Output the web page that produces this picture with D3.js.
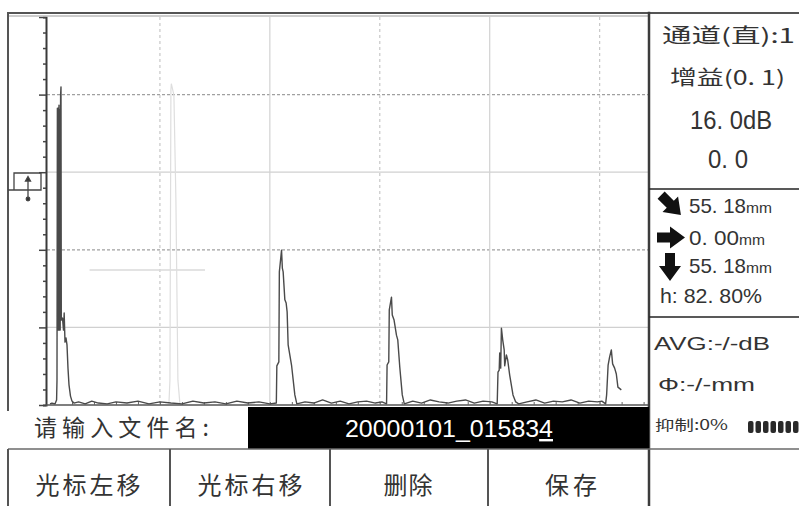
<!DOCTYPE html>
<html><head><meta charset="utf-8">
<script src="https://cdn.jsdelivr.net/npm/d3@7"></script>
<style>
html,body{margin:0;padding:0;background:#fff;}
svg{display:block;}
</style></head><body>
<svg id="screen" width="799" height="506"></svg>
<script>
// ---- A-scan trace: sound path (mm) against echo amplitude (% of full screen height)
const waveDepth = [0, 0.9, 2.3, 3.0, 3.18, 3.36, 3.55, 3.73, 3.91, 4.09, 4.27, 4.45, 4.64, 4.82, 5.0, 5.14, 5.68, 6.14, 6.45, 6.82, 7.27, 7.73, 8.18, 8.64, 9.32, 10.0, 10.9,
  13, 16, 19, 22, 26, 30, 35, 40, 45, 50, 55, 60, 65, 70, 75, 80, 85, 90, 95, 100,
  102.95, 103.18, 104.09, 104.32, 105.32, 105.68, 106.05, 106.82, 107.41, 107.86, 108.32, 109.86, 111.36, 112.27,
  116, 120, 124, 128, 132, 136, 140, 144, 148, 151,
  153.09, 153.32, 154.09, 154.32, 155.32, 155.68, 156.5, 157.59, 158.18, 159.09, 160.23, 161.14,
  165, 169, 173, 177, 181, 185, 189, 193, 197, 201,
  203.41, 203.77, 204.32, 204.55, 205.0, 205.32, 205.91, 206.59, 206.82, 207.59, 208.18, 209.09, 210.59, 211.82, 213.18,
  217, 221, 225, 229, 233, 237, 241, 245, 249, 251,
  252.73, 253.18, 253.86, 254.55, 255.32, 255.91, 256.82, 257.59, 258.32, 259.86];
const waveAmp = [0.3, 0.5, 0.3, 1.3, 6.4, 76.5, 19.3, 76.5, 19.3, 77.3, 19.3, 76.0, 19.3, 79.9, 82.0, 21.9, 22.4, 19.3, 23.7, 16.2, 17.3, 15.5, 9.5, 5.2, 2.3, 1.0, 0.5,
  0.8, 0.3, 1.0, 0.5, 0.3, 0.8, 0.5, 1.0, 0.3, 0.8, 0.5, 0.3, 1.0, 0.5, 0.8, 0.3, 1.0, 0.5, 0.8, 0.3,
  0.5, 10.1, 11.1, 34.3, 39.9, 35.3, 34.3, 27.1, 26.3, 24.0, 15.5, 10.3, 2.6, 0.3,
  0.8, 0.5, 1.3, 0.5, 1.0, 0.3, 0.8, 1.0, 0.5, 0.8,
  0.3, 10.3, 11.1, 24.5, 27.8, 23.2, 21.9, 18.0, 16.8, 9.8, 2.6, 0.3,
  1.0, 0.5, 1.3, 0.8, 0.5, 1.0, 1.3, 0.5, 1.0, 0.8,
  0.3, 8.5, 9.0, 13.4, 9.5, 19.8, 16.8, 14.2, 10.1, 12.9, 11.6, 7.7, 2.6, 0.8, 0.3,
  0.8, 1.3, 0.5, 1.0, 0.8, 1.3, 0.5, 1.0, 0.8, 1.0,
  0.3, 2.6, 10.3, 12.4, 14.2, 10.6, 9.5, 8.0, 4.6, 3.9];

// peak-memory trace of the gated echo
const ghostDepth = [54.09, 54.55, 55.0, 55.18, 56.36, 57.27, 58.18, 59.09];
const ghostAmp = [0.3, 6.4, 81.2, 82.8, 79.9, 52.8, 6.4, 0.3];

// gate A
const gateStart = 18, gateEnd = 70.5, gateLevel = 34.8;

// grid / tick positions
const depthGrid = [50, 100, 150, 200, 250];
const ampGrid = [20, 40, 60, 80];
const depthTicks = [10, 20, 30, 40, 50, 60, 70, 80, 90, 100, 110, 120, 130, 140, 150, 160, 170, 180, 190, 200, 210, 220, 230, 240, 250, 260, 270];
const ampTicks = [0, 4, 8, 12, 16, 20, 24, 28, 32, 36, 40, 44, 48, 52, 56, 60, 64, 68, 72, 76, 80, 84, 88, 92, 96, 100];

// instrument settings and gate readings
const channel = 1;
const gainStep = 0.1;
const gainDb = 16.0;
const refDb = 0.0;
const soundPath = 55.18, surfaceDist = 0.00, flawDepth = 55.18, echoHeight = 82.80;
const suppression = 0;
const meterCells = [1, 1, 1, 1, 1, 1, 1];
const fileName = "20000101_015834";
const softKeys = ["光标左移", "光标右移", "删除", "保存"];

const svg = d3.select("#screen");
const CJK = "'Noto Sans CJK SC', 'Noto Sans', sans-serif";
const NUM = "'Liberation Sans', Arial, 'Noto Sans CJK SC', sans-serif";
const ink = "#333";

const x = d3.scaleLinear().domain([0, 272]).range([50, 648]);
const y = d3.scaleLinear().domain([0, 100]).range([405, 17]);
const dot = v => v.replace(".", ". ");
const f1 = v => dot(d3.format(".1f")(v));
const f2 = v => dot(d3.format(".2f")(v));

svg.append("rect").attr("width", 799).attr("height", 506).attr("fill", "#fff");

// ---- grid
const grid = svg.append("g");
grid.selectAll("line.h").data(ampGrid).join("line")
  .attr("x1", 47).attr("x2", 648)
  .attr("y1", d => y(d)).attr("y2", d => y(d))
  .attr("stroke", (d, i) => i % 2 ? "#a0a0a0" : "#d0d0d0")
  .attr("stroke-width", 1.2)
  .attr("stroke-dasharray", (d, i) => i % 2 ? "3,2" : null);
grid.selectAll("line.v").data(depthGrid).join("line")
  .attr("x1", d => x(d)).attr("x2", d => x(d))
  .attr("y1", 17).attr("y2", 405)
  .attr("stroke", (d, i) => i % 2 ? "#d2d2d2" : "#c8c8c8")
  .attr("stroke-width", 1.2)
  .attr("stroke-dasharray", (d, i) => i % 2 ? null : "3,3");

// gate bar
svg.append("line")
  .attr("x1", x(gateStart)).attr("x2", x(gateEnd))
  .attr("y1", y(gateLevel)).attr("y2", y(gateLevel))
  .attr("stroke", "#dadada").attr("stroke-width", 1.5);

// peak memory
const line = d3.line().x(d => x(d[0])).y(d => y(d[1]));
svg.append("path")
  .attr("d", line(d3.zip(ghostDepth, ghostAmp)))
  .attr("fill", "none").attr("stroke", "#dedede").attr("stroke-width", 1.2);

// ---- axes
const yAxis = d3.axisLeft(y).tickValues(ampTicks).tickSize(3).tickFormat("");
const gy = svg.append("g").attr("transform", "translate(46,0)").call(yAxis);
gy.select(".domain").attr("stroke", "#3a3a3a").attr("stroke-width", 2);
gy.selectAll(".tick line").attr("stroke", "#444").attr("stroke-width", 1.5)
  .attr("x2", d => d % 20 === 0 ? -7 : -3);

const xAxis = d3.axisBottom(x).tickValues(depthTicks).tickSizeInner(-3).tickSizeOuter(0).tickFormat("");
const gx = svg.append("g").attr("transform", "translate(0,405)").call(xAxis);
gx.select(".domain").attr("stroke", "#555").attr("stroke-width", 1.5).attr("d", `M46,0H648`);
gx.selectAll(".tick line").attr("stroke", "#666");

// ---- echo trace
svg.append("path")
  .attr("d", line(d3.zip(waveDepth, waveAmp)))
  .attr("fill", "none").attr("stroke", "#4a4a4a").attr("stroke-width", 1.4)
  .attr("stroke-linejoin", "round");

// ---- frame
const frame = svg.append("g").attr("stroke-linecap", "square");
frame.append("line").attr("x1", 8).attr("x2", 799).attr("y1", 13).attr("y2", 13).attr("stroke", "#555").attr("stroke-width", 2);
frame.append("line").attr("x1", 8).attr("x2", 648).attr("y1", 16).attr("y2", 16).attr("stroke", "#bdbdbd").attr("stroke-width", 1.5);
frame.append("line").attr("x1", 8).attr("x2", 8).attr("y1", 13).attr("y2", 410).attr("stroke", "#555").attr("stroke-width", 2);
frame.append("line").attr("x1", 649).attr("x2", 649).attr("y1", 13).attr("y2", 506).attr("stroke", "#3c3c3c").attr("stroke-width", 2.5);
frame.append("line").attr("x1", 650).attr("x2", 799).attr("y1", 189).attr("y2", 189).attr("stroke", "#222").attr("stroke-width", 1.5);
frame.append("line").attr("x1", 650).attr("x2", 799).attr("y1", 317).attr("y2", 317).attr("stroke", "#222").attr("stroke-width", 1.5);

// gate marker at the left
const mk = svg.append("g").attr("stroke", "#444").attr("fill", "none").attr("stroke-width", 1.3);
mk.append("path").attr("d", "M8,190H41V173H14V190");
mk.append("line").attr("x1", 28).attr("x2", 28).attr("y1", 179).attr("y2", 199);
mk.append("path").attr("d", "M25.5,181L28,176.5L30.5,181Z").attr("fill", "#333");
mk.append("circle").attr("cx", 28).attr("cy", 199).attr("r", 1.8).attr("fill", "#333");

// ---- right status panel
const panel = svg.append("g").attr("fill", ink);
panel.append("text").attr("x", 662).attr("y", 43).attr("font-family", CJK).attr("font-size", 20)
  .attr("textLength", 133).attr("lengthAdjust", "spacingAndGlyphs")
  .text(`通道(直):${channel}`);
panel.append("text").attr("x", 670).attr("y", 85).attr("font-family", CJK).attr("font-size", 20)
  .attr("textLength", 115).attr("lengthAdjust", "spacingAndGlyphs")
  .text(`增益(${f1(gainStep)})`);
panel.append("text").attr("x", 690).attr("y", 129).attr("font-family", NUM).attr("font-size", 25)
  .attr("textLength", 82).attr("lengthAdjust", "spacingAndGlyphs")
  .text(`${f1(gainDb)}dB`);
panel.append("text").attr("x", 708).attr("y", 168).attr("font-family", NUM).attr("font-size", 25)
  .attr("textLength", 40).attr("lengthAdjust", "spacingAndGlyphs")
  .text(f1(refDb));

// gate readings with arrow glyphs
const arrowShape = "M0,-5H13V-11L28,0L13,11V5H0Z";
const readings = [
  {v: soundPath, tf: "translate(671,205) rotate(45) translate(-14,0)", base: 213},
  {v: surfaceDist, tf: "translate(657,237.5)", base: 245},
  {v: flawDepth, tf: "translate(670,253) rotate(90)", base: 273}
];
readings.forEach(r => {
  panel.append("path").attr("d", arrowShape).attr("transform", r.tf).attr("fill", "#111");
  const t = panel.append("text").attr("x", 689).attr("y", r.base).attr("font-family", NUM).attr("font-size", 21);
  t.append("tspan").text(f2(r.v)).attr("textLength", r.v < 10 ? 50 : 57).attr("lengthAdjust", "spacingAndGlyphs");
  t.append("tspan").attr("font-size", 15).text("mm").attr("textLength", 26).attr("lengthAdjust", "spacingAndGlyphs");
});
panel.append("text").attr("x", 660).attr("y", 303).attr("font-family", NUM).attr("font-size", 20)
  .attr("textLength", 102).attr("lengthAdjust", "spacingAndGlyphs")
  .text(`h: ${f2(echoHeight)}%`);
panel.append("text").attr("x", 654).attr("y", 350).attr("font-family", NUM).attr("font-size", 19)
  .attr("textLength", 116).attr("lengthAdjust", "spacingAndGlyphs")
  .text("AVG:-/-dB");
panel.append("text").attr("x", 658).attr("y", 391).attr("font-family", NUM).attr("font-size", 19)
  .attr("textLength", 97).attr("lengthAdjust", "spacingAndGlyphs")
  .text("Φ:-/-mm");
panel.append("text").attr("x", 655).attr("y", 430).attr("font-family", CJK).attr("font-size", 14)
  .attr("textLength", 73).attr("lengthAdjust", "spacingAndGlyphs")
  .text(`抑制:${suppression}%`);
panel.selectAll("rect.meter").data(meterCells).join("rect")
  .attr("x", (d, i) => 748 + i * 7.5).attr("y", 421).attr("width", 5.5).attr("height", 12)
  .attr("rx", 2).attr("fill", "#2a2a2a");

// ---- file name row
svg.append("text").attr("x", 34).attr("y", 436).attr("font-family", CJK).attr("font-size", 23)
  .attr("fill", ink).attr("textLength", 175).attr("lengthAdjust", "spacing")
  .text("请输入文件名:");
svg.append("rect").attr("x", 248).attr("y", 407).attr("width", 401).attr("height", 42).attr("fill", "#000");
const fn = svg.append("text").attr("x", 345).attr("y", 437).attr("font-family", NUM).attr("font-size", 24)
  .attr("fill", "#fff").attr("textLength", 208).attr("lengthAdjust", "spacingAndGlyphs");
fn.append("tspan").text(fileName.slice(0, -1));
fn.append("tspan").attr("text-decoration", "underline").text(fileName.slice(-1));

// ---- soft key row
svg.append("line").attr("x1", 8).attr("x2", 799).attr("y1", 449).attr("y2", 449).attr("stroke", "#6a6a6a").attr("stroke-width", 1.5);
const keyEdges = [8, 170, 330, 488, 649];
svg.selectAll("line.key").data(keyEdges.slice(0, 4)).join("line")
  .attr("x1", d => d).attr("x2", d => d).attr("y1", 449).attr("y2", 506)
  .attr("stroke", "#555").attr("stroke-width", 2);
const keyCentres = [88, 250, 408, 571];
const keyWidths = [105, 105, 49, 52];
svg.selectAll("text.key").data(softKeys).join("text")
  .attr("x", (d, i) => keyCentres[i] - keyWidths[i] / 2).attr("y", 494)
  .attr("font-family", CJK).attr("font-size", 24).attr("fill", ink)
  .attr("textLength", (d, i) => keyWidths[i]).attr("lengthAdjust", "spacing")
  .text(d => d);
</script>
</body></html>
